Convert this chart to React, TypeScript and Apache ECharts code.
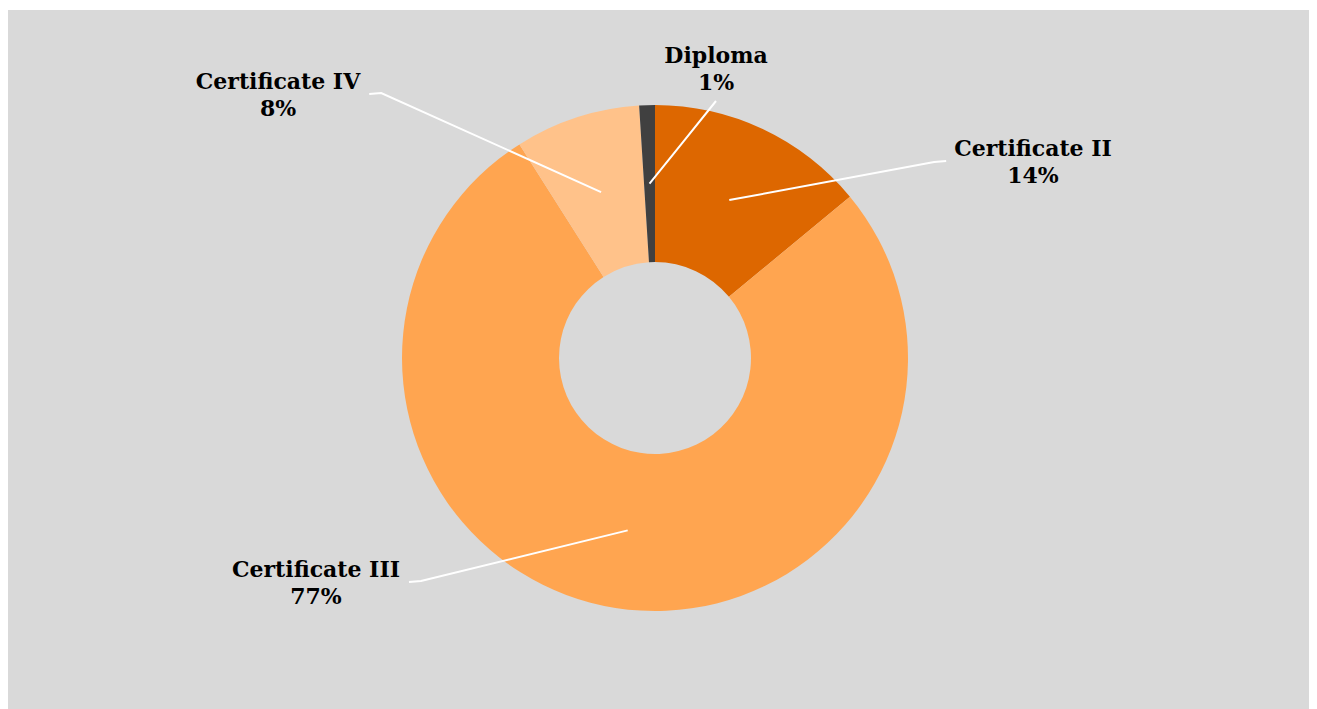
import React, { useEffect, useRef } from "react";
import * as echarts from "echarts";

const categories = ["Certificate II", "Certificate III", "Certificate IV", "Diploma"];
const shares = [14, 77, 8, 1];
const colors = ["#dd6700", "#ffa550", "#ffc28a", "#404040"];

// label anchor (chart coords, centre of label block) and side of the leader line
const labelAnchors: [number, number, string][] = [
  [1025, 151, "right"],
  [308, 572, "left"],
  [270, 84, "left"],
  [708, 58, "top"],
];

const CX = 647;
const CY = 348;
const R_IN = 96;
const R_OUT = 253;

export default function App() {
  const ref = useRef<HTMLDivElement>(null);
  useEffect(() => {
    if (!ref.current) return;
    const chart = echarts.init(ref.current, null, { renderer: "svg" });
    const total = shares.reduce((a, b) => a + b, 0);
    const midAngles: number[] = [];
    let cum = 0;
    shares.forEach((v) => {
      midAngles.push(((cum + v / 2) / total) * 2 * Math.PI);
      cum += v;
    });
    const midR = (R_IN + R_OUT) / 2;
    const common = {
      type: "pie",
      center: [CX, CY],
      radius: [R_IN, R_OUT],
      startAngle: 90,
      clockwise: true,
      avoidLabelOverlap: false,
      emphasis: { disabled: true },
    };
    chart.setOption({
      animation: false,
      backgroundColor: "#d9d9d9",
      series: [
        {
          ...common,
          z: 2,
          data: categories.map((name, i) => ({
            name,
            value: shares[i],
            itemStyle: { color: colors[i] },
          })),
          itemStyle: { borderWidth: 0 },
          label: { show: false },
          labelLine: { show: false },
        },
        {
          ...common,
          z: 10,
          silent: true,
          data: categories.map((name, i) => ({
            name,
            value: shares[i],
            itemStyle: { color: "rgba(0,0,0,0)" },
          })),
          itemStyle: { borderWidth: 0 },
          label: {
            show: true,
            position: "outside",
            formatter: "{b}\n{c}%",
            fontFamily: "DejaVu Serif",
            fontWeight: "bold",
            fontSize: 22,
            lineHeight: 27,
            color: "#000",
            align: "center",
          },
          labelLine: {
            show: true,
            lineStyle: { color: "#ffffff", width: 2 },
          },
          labelLayout: (params: any) => {
            const i = params.dataIndex;
            const [lx, ly, side] = labelAnchors[i];
            const w = params.labelRect.width;
            const h = params.labelRect.height;
            const a = midAngles[i];
            const start = [CX + midR * Math.sin(a), CY - midR * Math.cos(a)];
            let pts: number[][];
            if (side === "right") {
              const end = [lx - w / 2 - 8, ly];
              pts = [start, [end[0] - 12, ly + 1], end];
            } else if (side === "left") {
              const end = [lx + w / 2 + 9, ly];
              pts = [start, [end[0] + 12, ly - 1], end];
            } else {
              const end = [lx, ly + h / 2 + 6];
              pts = [start, [(start[0] + end[0]) / 2, (start[1] + end[1]) / 2], end];
            }
            return {
              x: lx,
              y: ly,
              align: "center",
              verticalAlign: "middle",
              labelLinePoints: pts,
            };
          },
        },
      ],
    });
    return () => chart.dispose();
  }, []);
  return (
    <div
      ref={ref}
      style={{ position: "absolute", left: 8, top: 10, width: 1301, height: 699 }}
    />
  );
}
